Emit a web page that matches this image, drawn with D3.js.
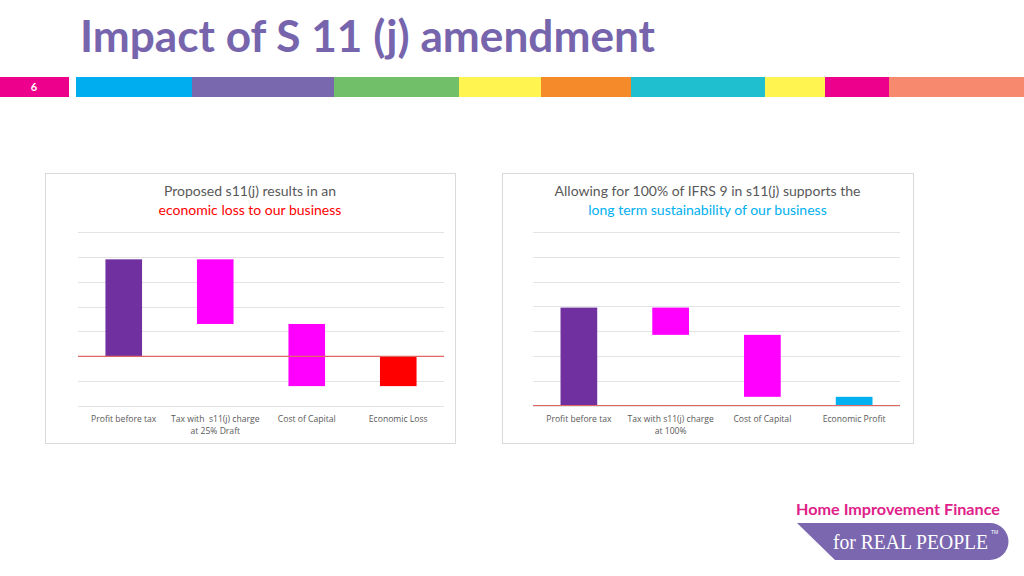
<!DOCTYPE html>
<html><head><meta charset="utf-8">
<script src="https://cdn.jsdelivr.net/npm/d3@7"></script>
<style>body{margin:0;background:#fff;}svg{display:block;}</style>
</head><body>
<svg id="c" width="1024" height="576"></svg>
<script>
// ---- data ----
const leftCategories = ["Profit before tax", "Tax with  s11(j) charge|at 25% Draft", "Cost of Capital", "Economic Loss"];
const leftValues = [3.9, -2.6, -2.5, -1.2];
const leftKinds = ["total", "delta", "delta", "result"];
const rightCategories = ["Profit before tax", "Tax with s11(j) charge|at 100%", "Cost of Capital", "Economic Profit"];
const rightValues = [3.95, -1.1, -2.5, 0.35];
const rightKinds = ["total", "delta", "delta", "result"];
const leftDomain = [-2, 5];
const rightDomain = [0, 7];
const stripColors = ["#00aeef","#7a68ae","#72bf6a","#fff450","#f58a2a","#1fbfcf","#fff450","#ec008c","#f7896f"];
const stripStops = [76,192,334,459,541,631,765,825,889,1024];

const svg = d3.select("#c");

// title
svg.append("text").attr("x", 80).attr("y", 52)
  .attr("font-family", "Lato, 'Open Sans', sans-serif").attr("font-weight", "bold")
  .attr("font-size", 43).attr("fill", "#7665ad")
  .attr("textLength", 575).attr("lengthAdjust", "spacingAndGlyphs")
  .text("Impact of S 11 (j) amendment");

// strip
svg.append("rect").attr("x", 0).attr("y", 77).attr("width", 69).attr("height", 20).attr("fill", "#ec008c");
svg.append("text").attr("x", 34).attr("y", 91).attr("text-anchor", "middle")
  .attr("font-family", "Lato, sans-serif").attr("font-weight", "bold").attr("font-size", 11)
  .attr("fill", "#fff").text("6");
stripColors.forEach((c, i) => {
  svg.append("rect").attr("x", stripStops[i]).attr("y", 77)
    .attr("width", stripStops[i+1] - stripStops[i]).attr("height", 20).attr("fill", c);
});

function drawChart(opt) {
  const g = svg.append("g");
  g.append("rect").attr("x", opt.fx + 0.5).attr("y", 173.5).attr("width", opt.fw).attr("height", 270)
    .attr("fill", "#fff").attr("stroke", "#d9d9d9").attr("stroke-width", 1);
  const cx = opt.fx + opt.fw / 2;
  g.append("text").attr("x", cx).attr("y", 196).attr("text-anchor", "middle")
    .attr("font-family", "Lato, 'Open Sans', sans-serif").attr("font-size", 14).attr("fill", "#595959")
    .text(opt.t1);
  g.append("text").attr("x", cx).attr("y", 215).attr("text-anchor", "middle")
    .attr("font-family", "Lato, 'Open Sans', sans-serif").attr("font-size", 14).attr("fill", opt.t2c)
    .text(opt.t2);

  const x = d3.scaleBand().domain(opt.cats).range([opt.x0, opt.x1]).paddingInner(0.6).paddingOuter(0.3);
  const y = d3.scaleLinear().domain(opt.domain).range([opt.ybot, opt.ytop]);

  // gridlines
  g.selectAll(".grid").data(y.ticks(7)).enter().append("line")
    .attr("x1", opt.x0).attr("x2", opt.x1)
    .attr("y1", d => Math.round(y(d)) + 0.5).attr("y2", d => Math.round(y(d)) + 0.5)
    .attr("stroke", "#e3e3e3").attr("stroke-width", 1);

  // waterfall
  let run = 0;
  const bars = opt.vals.map((v, i) => {
    let a, b;
    if (opt.kinds[i] === "total") { a = 0; b = v; run = v; }
    else if (opt.kinds[i] === "delta") { a = run; b = run + v; run = b; }
    else { a = 0; b = v; }
    return { cat: opt.cats[i], a, b, color: opt.colors[i] };
  });
  g.selectAll(".bar").data(bars).enter().append("rect")
    .attr("x", d => x(d.cat)).attr("width", x.bandwidth())
    .attr("y", d => y(Math.max(d.a, d.b))).attr("height", d => Math.abs(y(d.a) - y(d.b)))
    .attr("fill", d => d.color);

  // zero line
  g.append("line").attr("x1", opt.x0).attr("x2", opt.x1)
    .attr("y1", y(0)).attr("y2", y(0)).attr("stroke", "#e06666").attr("stroke-width", 1.2);

  // category labels
  opt.cats.forEach(c => {
    const lines = c.split("|");
    lines.forEach((ln, j) => {
      g.append("text").attr("x", x(c) + x.bandwidth() / 2).attr("y", 422 + j * 12)
        .attr("text-anchor", "middle").attr("font-family", "'Open Sans', Lato, sans-serif")
        .attr("font-size", 8.6).attr("fill", "#595959").attr("xml:space", "preserve").text(ln);
    });
  });
}

drawChart({
  fx: 45, fw: 410, x0: 78, x1: 444, ytop: 232, ybot: 406, domain: leftDomain,
  cats: leftCategories, vals: leftValues, kinds: leftKinds,
  colors: ["#7030a0", "#ff00ff", "#ff00ff", "#ff0000"],
  t1: "Proposed s11(j) results in an", t2: "economic loss to our business", t2c: "#ff0000"
});
drawChart({
  fx: 502, fw: 411, x0: 533, x1: 900, ytop: 232, ybot: 405.5, domain: rightDomain,
  cats: rightCategories, vals: rightValues, kinds: rightKinds,
  colors: ["#7030a0", "#ff00ff", "#ff00ff", "#00b0f0"],
  t1: "Allowing for 100% of IFRS 9 in s11(j) supports the", t2: "long term sustainability of our business", t2c: "#00b0f0"
});

// logo
svg.append("text").attr("x", 796).attr("y", 515)
  .attr("font-family", "Lato, 'Open Sans', sans-serif").attr("font-weight", "bold")
  .attr("font-size", 16).attr("fill", "#e0218a")
  .attr("textLength", 204).attr("lengthAdjust", "spacingAndGlyphs")
  .text("Home Improvement Finance");
svg.append("path")
  .attr("d", "M797,523 L990,523 A18.5,18.5 0 0 1 990,560 L835,560 Z")
  .attr("fill", "#7b67b0");
svg.append("text").attr("x", 833).attr("y", 549)
  .attr("font-family", "'Liberation Serif', 'DejaVu Serif', serif")
  .attr("font-size", 20).attr("fill", "#fff")
  .attr("textLength", 155).attr("lengthAdjust", "spacingAndGlyphs")
  .text("for REAL PEOPLE");
svg.append("text").attr("x", 991).attr("y", 534)
  .attr("font-family", "Liberation Sans, sans-serif").attr("font-size", 5).attr("fill", "#fff").text("TM");
</script>
</body></html>
